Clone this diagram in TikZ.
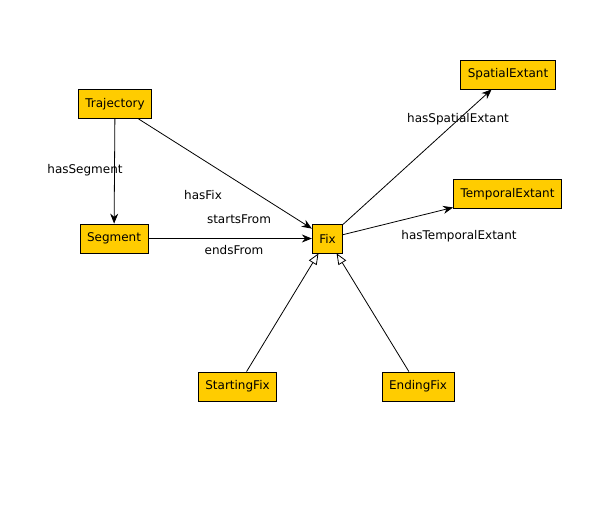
\documentclass[tikz,border=0pt]{standalone}
\usepackage{fontspec}
\setmainfont{DejaVu Sans}
\usetikzlibrary{arrows.meta}
\definecolor{classgold}{HTML}{FFCC00}
\tikzset{
  class/.style={draw=black, fill=classgold, inner xsep=7pt, minimum height=29pt, font=\fontsize{12}{14}\selectfont},
  rel/.style={-{Stealth[length=10pt,width=8pt]}},
  isa/.style={-{Triangle[open,length=11pt,width=9pt,fill=white]}},
  lbl/.style={font=\fontsize{12}{14}\selectfont}
}
\begin{document}
\begin{tikzpicture}[x=1pt,y=-1pt,line width=0.8pt]
\useasboundingbox (0,0) rectangle (596,507);
\node[class] (traj) at (115,104) {Trajectory};
\node[class] (seg) at (114,238.5) {Segment};
\node[class] (fix) at (327.5,238.5) {Fix};
\node[class] (spat) at (508,74.5) {SpatialExtant};
\node[class] (temp) at (507.5,194) {TemporalExtant};
\node[class] (start) at (237.5,386.5) {StartingFix};
\node[class] (end) at (418,386.5) {EndingFix};
\draw[rel] (traj) -- (seg);
\draw[rel] (traj) -- (fix);
\draw[rel] (seg) -- (fix);
\draw[rel] (fix) -- (spat);
\draw[rel] (fix) -- (temp);
\draw[isa] (start) -- (fix);
\draw[isa] (end) -- (fix);
\node[lbl] (lsegment) at (85,170) {hasSegment};
\node[lbl] (lfix) at (203,195) {hasFix};
\node[lbl] (lstarts) at (239,219) {startsFrom};
\node[lbl] (lends) at (234,250) {endsFrom};
\node[lbl] (lspat) at (458,119) {hasSpatialExtant};
\node[lbl] (ltemp) at (459,236) {hasTemporalExtant};
\end{tikzpicture}
\end{document}
